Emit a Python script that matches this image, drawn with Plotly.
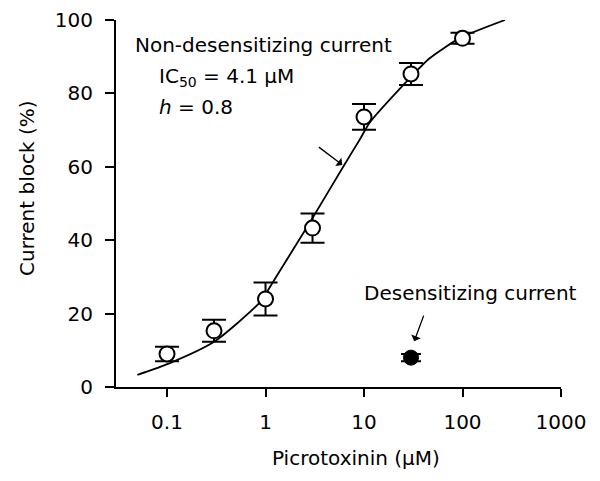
import plotly.graph_objects as go

# Non-desensitizing current data (mean ± error)
conc = [0.1, 0.3, 1, 3, 10, 30, 100]
block = [9, 15.3, 24, 43.3, 73.6, 85.3, 95]
block_err = [2, 3, 4.5, 4, 3.5, 3, 1.5]

# Desensitizing current
desens_conc = [30]
desens_block = [8]
desens_err = [1]

# Fitted curve
curve_x = [0.05, 0.107, 0.3, 0.87, 1.28, 2.8, 6.3, 9.0, 11.4, 27, 46, 93, 270]
curve_y = [3.3, 6.5, 12.3, 23.0, 30.0, 44.7, 60.5, 67.3, 72, 83.2, 89.5, 95, 100]

x_tickvals = [0.1, 1, 10, 100, 1000]
x_ticktext = ["0.1", "1", "10", "100", "1000"]
y_tickvals = [0, 20, 40, 60, 80, 100]

FONT = "DejaVu Sans"
FS = 20

fig = go.Figure()

fig.add_trace(go.Scatter(
    x=curve_x, y=curve_y, mode="lines",
    line=dict(color="black", width=1.8, shape="spline", smoothing=0.6),
    hoverinfo="skip", showlegend=False, cliponaxis=False,
))

fig.add_trace(go.Scatter(
    x=conc, y=block, mode="markers",
    marker=dict(symbol="circle", size=15, color="white",
                line=dict(color="black", width=2)),
    error_y=dict(type="data", array=block_err, visible=True,
                 color="black", thickness=2, width=12),
    showlegend=False, cliponaxis=False,
))

fig.add_trace(go.Scatter(
    x=desens_conc, y=desens_block, mode="markers",
    marker=dict(symbol="circle", size=15, color="black",
                line=dict(color="black", width=1)),
    error_y=dict(type="data", array=desens_err, visible=True,
                 color="black", thickness=2, width=10),
    showlegend=False, cliponaxis=False,
))

# page has an 8px body margin; compensate so the plot lands where the reference has it
OFF = 8
W, H = 600 - OFF, 481 - OFF
L, T = 116 - OFF, 20 - OFF
R = (OFF + W) - 561
B = (OFF + H) - 387
pw, ph = W - L - R, H - T - B

def px(x):
    return (x - OFF - L) / pw

def py(y):
    return (OFF + H - B - y) / ph

annos = [
    dict(text="Non-desensitizing current", x=px(133), y=py(45),
         xanchor="left", yanchor="middle"),
    dict(text="IC<sub>50</sub> = 4.1 µM", x=px(157), y=py(77),
         xanchor="left", yanchor="middle"),
    dict(text="<i>h</i> = 0.8", x=px(157), y=py(107),
         xanchor="left", yanchor="middle"),
    dict(text="Desensitizing current", x=px(362), y=py(293),
         xanchor="left", yanchor="middle"),
    dict(text="Picrotoxinin (µM)", x=px(356), y=py(458),
         xanchor="center", yanchor="middle"),
    dict(text="Current block (%)", x=px(27), y=py(188),
         xanchor="center", yanchor="middle", textangle=-90),
]
for a in annos:
    fig.add_annotation(xref="paper", yref="paper", showarrow=False,
                       font=dict(family=FONT, size=FS, color="black"), **a)

# arrows
fig.add_annotation(x=0.78, y=60.5, xref="x", yref="y", text="",
                   showarrow=True, arrowhead=1, arrowsize=1.3, arrowwidth=1.3,
                   arrowcolor="black", ax=-25, ay=-19)
fig.add_annotation(x=1.51, y=12.5, xref="x", yref="y", text="",
                   showarrow=True, arrowhead=1, arrowsize=1.3, arrowwidth=1.3,
                   arrowcolor="black", ax=10, ay=-27)

fig.update_xaxes(
    type="log", range=[-1.518, 3],
    tickvals=x_tickvals, ticktext=x_ticktext,
    ticks="outside", ticklen=8, tickwidth=2, tickcolor="black",
    showline=True, linecolor="black", linewidth=2,
    showgrid=False, zeroline=False, automargin=False,
    tickfont=dict(family=FONT, size=FS, color="black"),
    ticklabelstandoff=8,
)
fig.update_yaxes(
    range=[0, 100], tickvals=y_tickvals,
    ticks="outside", ticklen=9, tickwidth=2, tickcolor="black",
    showline=True, linecolor="black", linewidth=2,
    showgrid=False, zeroline=False, automargin=False,
    tickfont=dict(family=FONT, size=FS, color="black"),
    ticklabelstandoff=8,
)

fig.update_layout(
    width=W, height=H,
    margin=dict(l=L, r=R, t=T, b=B),
    paper_bgcolor="white", plot_bgcolor="white",
    font=dict(family=FONT, size=FS, color="black"),
)

fig.write_html("out.html")
